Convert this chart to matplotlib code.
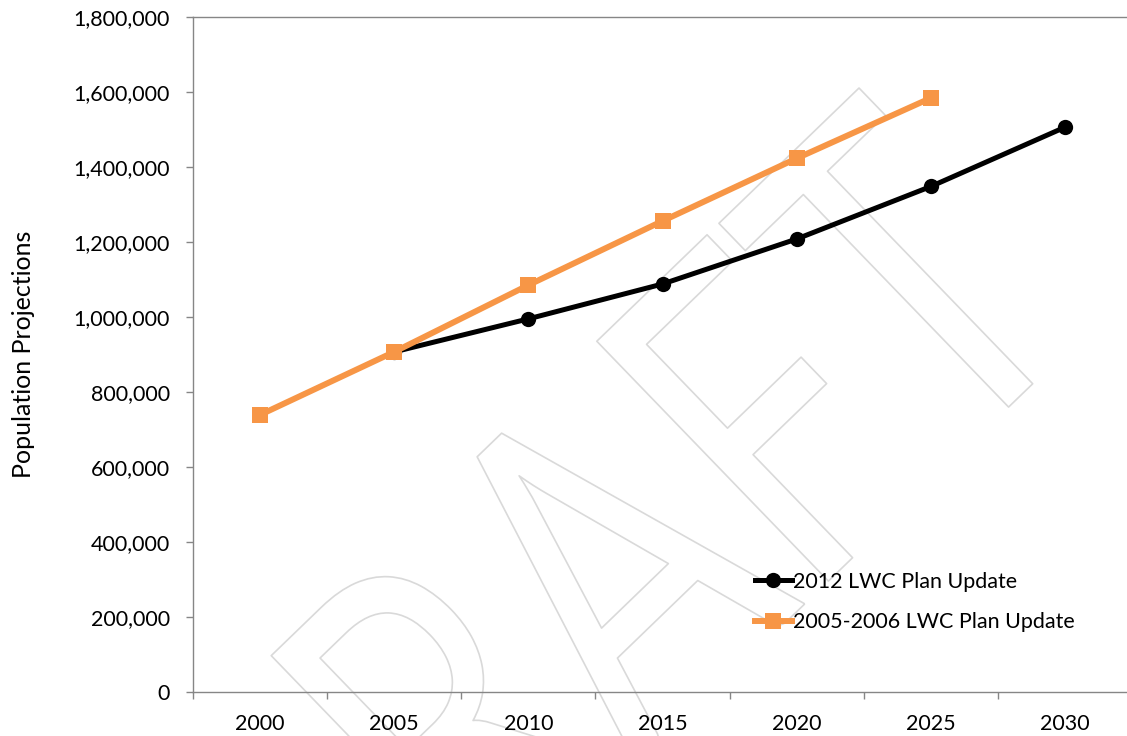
import numpy as np
import matplotlib
matplotlib.use("Agg")
import matplotlib.pyplot as plt
from matplotlib.patheffects import AbstractPathEffect
from matplotlib.transforms import Affine2D

# 人口予測データ
years = ["2000", "2005", "2010", "2015", "2020", "2025", "2030"]
plan_2012_years = ["2005", "2010", "2015", "2020", "2025", "2030"]
plan_2012 = [907000, 995000, 1088000, 1208000, 1348000, 1506000]
plan_2005_years = ["2000", "2005", "2010", "2015", "2020", "2025"]
plan_2005 = [739000, 907000, 1085000, 1256000, 1423000, 1584000]
series_labels = ["2012 LWC Plan Update", "2005-2006 LWC Plan Update"]
y_ticks = np.arange(0, 1800001, 200000)

FONT = ["Lato", "DejaVu Sans"]
plt.rcParams["font.family"] = FONT


class StretchedOutline(AbstractPathEffect):
    """文字を縦方向に引き伸ばして輪郭線だけ描く"""

    def __init__(self, sy, **kwargs):
        super().__init__()
        self._sy = sy
        self._gc = kwargs

    def draw_path(self, renderer, gc, tpath, affine, rgbFace=None):
        gc0 = renderer.new_gc()
        gc0.copy_properties(gc)
        gc0 = self._update_gc(gc0, self._gc)
        m = affine.get_matrix() @ np.diag([1.0, self._sy, 1.0])
        renderer.draw_path(gc0, tpath, Affine2D(m), None)
        gc0.restore()


fig = plt.figure(figsize=(11.27, 7.36), dpi=100)
ax = fig.add_axes([0.17125, 0.0598, 0.8332, 0.9171])

# 透かし文字
ax.text(290 / 1127, 1 - 1101 / 736, "DRAFT", transform=fig.transFigure,
        fontsize=250, rotation=44, rotation_mode="anchor",
        ha="left", va="baseline", zorder=1, clip_on=False,
        path_effects=[StretchedOutline(1.34, foreground="#d9d9d9", linewidth=1.2)])

x_idx = {y: i for i, y in enumerate(years)}
ax.plot([x_idx[y] for y in plan_2012_years], plan_2012, color="black",
        lw=3.6, marker="o", ms=11, mew=0, label=series_labels[0], zorder=3)
ax.plot([x_idx[y] for y in plan_2005_years], plan_2005, color="#F79646",
        lw=4.3, marker="s", ms=12, mew=0, label=series_labels[1], zorder=4)

ax.set_xlim(-0.5, 6.5)
ax.set_ylim(0, 1800000)
ax.set_xticks(range(len(years)), years)
ax.set_xticks(np.arange(-0.5, len(years), 1), minor=True)
ax.set_yticks(y_ticks, [f"{v:,.0f}" for v in y_ticks])

spine_color = "#868686"
for side in ["left", "bottom", "top"]:
    ax.spines[side].set_color(spine_color)
    ax.spines[side].set_linewidth(1.0)
ax.spines["right"].set_visible(False)

ax.tick_params(axis="x", which="major", length=0, pad=16, labelsize=15.5)
ax.tick_params(axis="x", which="minor", length=5, width=1, color=spine_color,
               direction="out")
ax.tick_params(axis="y", length=5, width=1, color=spine_color, pad=11.5,
               labelsize=15.5)

ax.set_ylabel("Population Projections", fontsize=18)
ax.yaxis.set_label_coords(-0.168, 0.5)

ax.legend(loc="upper left", bbox_to_anchor=(755 / 1127, 1 - 572 / 736),
          bbox_transform=fig.transFigure, frameon=False, fontsize=15.5,
          handlelength=1.7, handletextpad=0.05, borderpad=0, borderaxespad=0,
          labelspacing=0.95)

fig.savefig("out.png", dpi=100)
